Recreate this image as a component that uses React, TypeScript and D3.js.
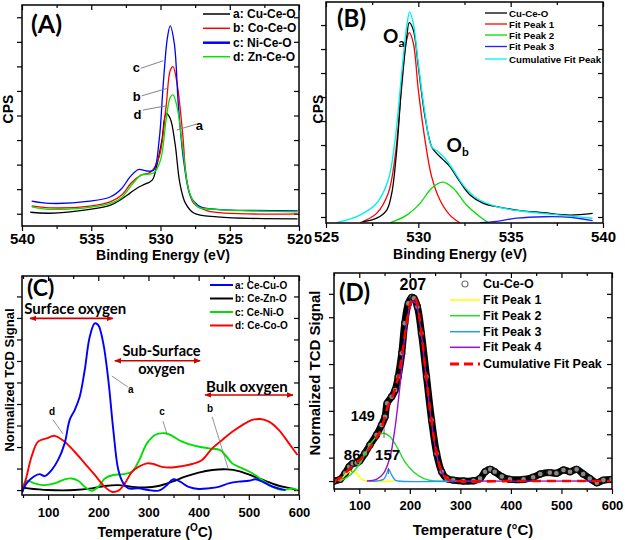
import React, { useEffect, useRef } from "react";
import * as d3 from "d3";

type Pt = [number, number];

// ---------- (A) O 1s spectra: binding energy (eV), CPS (a.u.)
const aCuCeO: Pt[] = [[539.4,0.06],[538,0.02],[535.1,0.18],[533.6,0.35],[532.9,0.56],[532.2,0.84],[531.7,1.04],[531.3,1.16],[530.6,1.37],[530.3,1.89],[529.9,2.99],[529.6,4.08],[529.3,3.88],[528.95,2.86],[528.6,1.24],[528.2,0.43],[527.6,0.03],[525.9,-0.13],[520.1,-0.21]];
const aCoCeO: Pt[] = [[539.3,0.32],[538,0.24],[535.1,0.31],[533.6,0.49],[532.8,0.76],[532.1,1.26],[531.4,1.57],[530.7,1.7],[530.1,2.31],[529.6,4.34],[529.3,5.83],[529.1,5.99],[528.8,5.29],[528.4,3.26],[528.1,1.37],[527.6,0.42],[526.6,0.12],[520.1,-0.01]];
const aNiCeO: Pt[] = [[539.3,0.51],[538,0.42],[535.1,0.51],[533.6,0.69],[532.8,1.03],[532.2,1.5],[531.6,1.8],[531.0,1.74],[530.5,1.77],[530.1,2.99],[529.8,5.29],[529.5,7.17],[529.3,7.65],[529.0,6.92],[528.7,4.33],[528.3,2.05],[527.8,0.68],[527.1,0.28],[525.9,0.18],[520.1,0.12]];
const aZnCeO: Pt[] = [[539.3,0.28],[538,0.18],[535.1,0.26],[533.6,0.42],[532.8,0.66],[532.0,1.23],[531.4,1.57],[530.5,1.66],[530.0,2.18],[529.6,3.8],[529.3,4.74],[529.1,4.84],[528.8,4.34],[528.4,2.72],[527.9,0.83],[527.3,0.28],[526.1,0.18],[520.1,0.08]];
const aLegend = ["a: Cu-Ce-O", "b: Co-Ce-O", "c: Ni-Ce-O", "d: Zn-Ce-O"];
const beTicksA = [540, 535, 530, 525, 520];

// ---------- (B) Cu-Ce-O deconvolution
const bCuCeO: Pt[] = [[527.0,-0.2],[527.74,-0.05],[528.29,0.29],[528.56,0.99],[528.83,2.79],[529.1,5.57],[529.37,7.51],[529.51,8.1],[529.73,7.79],[530.0,6.26],[530.36,4.18],[530.72,2.93],[530.99,2.65],[531.35,2.38],[531.71,2.1],[532.25,1.47],[532.8,0.92],[533.52,0.57],[534.24,0.43],[535.33,0.29],[536.77,0.18],[538.21,0.08],[539.44,0.15]];
const bFit1: Pt[] = [[526.84,-0.24],[527.74,0.15],[528.37,0.99],[528.74,2.51],[529.1,5.43],[529.37,7.38],[529.51,7.68],[529.73,7.24],[530.0,5.29],[530.36,3.21],[530.72,1.68],[531.17,0.71],[531.71,0.08],[532.25,-0.24]];
const bFit2: Pt[] = [[528.47,-0.24],[529.37,0.08],[530.09,0.57],[530.72,1.2],[531.31,1.45],[531.89,1.2],[532.61,0.5],[533.34,0.01],[533.79,-0.24]];
const bFit3: Pt[] = [[533.34,-0.24],[534.24,-0.18],[535.33,-0.05],[536.77,0.01],[538.21,-0.01],[539.44,-0.15]];
const bCumul: Pt[] = [[525.58,-0.24],[526.84,0.08],[527.74,0.57],[528.37,1.54],[528.74,3.21],[529.1,5.99],[529.37,7.93],[529.53,8.55],[529.73,8.07],[530.0,6.4],[530.36,4.32],[530.72,2.93],[531.08,2.72],[531.44,2.45],[531.89,1.96],[532.43,1.33],[533.16,0.78],[534.24,0.43],[535.87,0.22],[537.67,0.08],[539.44,-0.05]];
const bLegend = ["Cu-Ce-O", "Fit Peak 1", "Fit Peak 2", "Fit Peak 3", "Cumulative Fit Peak"];
const beTicksB = [525, 530, 535, 540];

// ---------- (C) H2-TPR profiles: temperature (°C), normalized signal
const cCeCuO: Pt[] = [[48,-0.12],[57,0.31],[71,0.62],[83,0.74],[93,0.65],[107,0.93],[120,1.4],[133,2.17],[143,3.26],[153,3.72],[163,4.34],[173,5.58],[183,7.13],[193,7.75],[200,7.67],[210,6.82],[220,5.12],[230,2.79],[240,0.93],[250,0.31],[260,0.08],[280,0.08],[300,0],[320,-0.03],[333,0.15],[350,0.5],[363,0.39],[380,0.15],[400,0.05],[420,0.08],[440,0.15],[460,0.31],[480,0.39],[500,0.43],[513,0.5],[527,0.39],[540,0.23],[553,0.12],[567,0.03],[573,0]];
const cCeZnO: Pt[] = [[48,0.12],[60,0.08],[100,0],[153,0],[187,0.08],[213,0.19],[240,0.23],[267,0.15],[293,0.12],[320,0.19],[347,0.39],[373,0.62],[400,0.81],[427,0.93],[457,0.96],[480,0.88],[507,0.66],[533,0.43],[560,0.2],[580,0.1],[597,0]];
const cCeNiO: Pt[] = [[48,0.06],[57,0.43],[73,0.31],[93,0.23],[113,0.31],[133,0.5],[147,0.54],[160,0.43],[173,0.15],[187,-0.03],[200,0.15],[213,0.54],[230,0.7],[250,0.74],[267,0.85],[280,1.32],[297,2.17],[313,2.56],[333,2.64],[347,2.52],[367,2.25],[393,2.05],[420,1.94],[443,1.86],[453,1.63],[467,1.24],[487,1.01],[507,0.78],[527,0.46],[547,0.15],[567,0],[587,0.08],[597,0]];
const cCeCoO: Pt[] = [[48,-0.12],[57,0.62],[67,1.55],[80,2.25],[97,2.4],[113,2.52],[133,2.25],[153,1.78],[173,1.24],[193,0.7],[213,0.15],[227,-0.08],[240,-0.03],[253,0.31],[267,0.85],[280,1.08],[297,1.24],[310,1.21],[327,1.08],[347,1.05],[367,1.11],[387,1.21],[407,1.4],[427,1.94],[447,2.33],[467,2.71],[487,3.02],[507,3.26],[523,3.3],[540,3.18],[560,2.79],[580,2.17],[597,1.63]];
const cLegend = ["a: Ce-Cu-O", "b: Ce-Zn-O", "c: Ce-Ni-O", "d: Ce-Co-O"];
// oxygen regions: [from °C, to °C, level]
const cRegions: [number, number, number][] = [[64, 229, 7.98], [233, 403, 6.01], [413, 588, 4.42]];
const tempTicks = [100, 200, 300, 400, 500, 600];
const tempMinor = [50, 150, 250, 350, 450, 550];

// ---------- (D) Cu-Ce-O TPR fit
const dCuCeO: Pt[] = [[50,0],[62,0.07],[72,0.33],[80,0.61],[87,0.75],[95,0.78],[101,0.87],[111,1.18],[121,1.54],[134,1.97],[144,2.39],[151,2.75],[155,3.32],[164,3.6],[171,3.89],[177,4.46],[184,5.46],[190,6.74],[197,7.59],[204,7.85],[208,7.81],[215,7.45],[223,6.31],[233,4.46],[243,2.61],[253,1.18],[263,0.4],[273,0.11],[286,0.04],[306,0],[326,0.01],[339,0.11],[349,0.4],[359,0.5],[368,0.4],[382,0.19],[398,0.07],[425,0.07],[444,0.16],[458,0.3],[477,0.36],[490,0.33],[504,0.47],[517,0.4],[530,0.5],[543,0.3],[556,0.11],[570,-0.07],[583,0.04],[599,0.07]];
const dFit1: Pt[] = [[50,0],[65,0.11],[75,0.33],[85,0.43],[95,0.33],[105,0.07],[115,0],[170,0]];
const dFit2: Pt[] = [[62,0],[82,0.26],[101,0.75],[121,1.54],[138,1.97],[149,2.04],[161,1.89],[174,1.47],[190,0.83],[207,0.4],[227,0.11],[247,0],[300,0]];
const dFit3: Pt[] = [[120,0],[134,0],[148,0.07],[154,0.3],[158,0.51],[164,0.26],[171,0.04],[177,0],[290,0]];
const dFit4: Pt[] = [[115,0],[134,0.07],[148,0.33],[161,1.04],[171,2.32],[181,4.17],[190,6.17],[200,7.45],[206,7.66],[212,7.59],[220,6.74],[230,4.89],[240,3.03],[250,1.47],[260,0.54],[270,0.14],[279,0.01],[299,0],[570,0]];
const dCumul: Pt[] = [[50,0],[65,0.16],[78,0.47],[88,0.68],[101,0.9],[115,1.25],[131,1.75],[144,2.25],[155,3.1],[167,3.68],[177,4.46],[187,5.74],[197,7.17],[206,7.85],[212,7.76],[221,6.67],[231,4.74],[241,2.89],[252,1.32],[262,0.47],[273,0.11],[293,0],[398,0],[596,0]];
const dLegend = ["Cu-Ce-O", "Fit Peak 1", "Fit Peak 2", "Fit Peak 3", "Fit Peak 4", "Cumulative Fit Peak"];
// peak label: text, °C, label level, tick from, tick to
const dPeaks: [string, number, number, number, number][] = [["207", 206, 8.16, 0, 0], ["149", 107, 2.56, 2.26, 1.84], ["157", 156, 0.9, 0.56, 0.3], ["86", 86, 0.9, 0.64, 0.38]];
const dPeakTicks = [149, 158, 85];

const SANS = "'Liberation Sans', Arial, Helvetica, sans-serif";
const HUM = "Lato, 'Open Sans', sans-serif";

interface Box { l: number; r: number; t: number; b: number }
interface Spec {
  xDom: [number, number]; yDom: [number, number];
  xMajor: number[]; xMinor: number[]; yMajor: number[];
  fs: number; pad: number; id: string;
}

function panel(svg: any, box: Box, s: Spec) {
  const x = d3.scaleLinear().domain(s.xDom).range([box.l, box.r]);
  const y = d3.scaleLinear().domain(s.yDom).range([box.b, box.t]);
  const g = svg.append("g");
  const put = (axis: any, tr: string) => {
    const a = g.append("g").attr("transform", tr).call(axis);
    a.select(".domain").remove();
    a.selectAll("line").attr("stroke-width", 1.2);
    return a;
  };
  const none = () => "";
  put(d3.axisBottom(x).tickValues(s.xMajor).tickSize(5).tickPadding(s.pad).tickFormat(d3.format("d") as any), `translate(0,${box.b})`)
    .selectAll("text").attr("font-family", SANS).attr("font-weight", "bold").attr("font-size", s.fs).attr("fill", "#000");
  put(d3.axisBottom(x).tickValues(s.xMinor).tickSize(3).tickFormat(none), `translate(0,${box.b})`);
  put(d3.axisTop(x).tickValues(s.xMajor).tickSize(-5).tickFormat(none), `translate(0,${box.t})`);
  put(d3.axisTop(x).tickValues(s.xMinor).tickSize(-3).tickFormat(none), `translate(0,${box.t})`);
  put(d3.axisLeft(y).tickValues(s.yMajor).tickSize(5).tickFormat(none), `translate(${box.l},0)`);
  put(d3.axisRight(y).tickValues(s.yMajor).tickSize(-5).tickFormat(none), `translate(${box.r},0)`);
  svg.append("clipPath").attr("id", s.id).append("rect")
    .attr("x", box.l).attr("y", box.t).attr("width", box.r - box.l).attr("height", box.b - box.t);
  const plot = g.append("g").attr("clip-path", `url(#${s.id})`);
  const over = g.append("g");
  g.append("rect").attr("x", box.l).attr("y", box.t).attr("width", box.r - box.l).attr("height", box.b - box.t)
    .attr("fill", "none").attr("stroke", "#000").attr("stroke-width", 1.5);
  const line = d3.line<Pt>().x((d) => x(d[0])).y((d) => y(d[1])).curve(d3.curveCatmullRom.alpha(0.5));
  const curve = (data: Pt[], color: string, w: number, dash?: string) =>
    plot.append("path").attr("d", line(data)).attr("fill", "none").attr("stroke", color)
      .attr("stroke-width", w).attr("stroke-dasharray", dash ?? null).attr("stroke-linejoin", "round");
  return { g, plot, over, x, y, curve };
}

function text(g: any, t: string, x: number, y: number, fs: number, opt: any = {}) {
  return g.append("text").text(t).attr("x", x).attr("y", y).attr("font-size", fs)
    .attr("font-family", opt.family ?? SANS).attr("font-weight", opt.weight ?? "bold")
    .attr("text-anchor", opt.anchor ?? "start").attr("fill", opt.fill ?? "#000")
    .attr("transform", opt.rotate ? `rotate(-90 ${x} ${y})` : null);
}

function legend(g: any, labels: string[], colors: string[], rows: number[], x1: number, x2: number, tx: number, fs: number, widths: number[], dash: (string | null)[] = []) {
  labels.forEach((lab, i) => {
    if (colors[i] !== "marker") {
      g.append("line").attr("x1", x1).attr("x2", x2).attr("y1", rows[i]).attr("y2", rows[i])
        .attr("stroke", colors[i]).attr("stroke-width", widths[i]).attr("stroke-dasharray", dash[i] ?? null);
    } else {
      g.append("circle").attr("cx", (x1 + x2) / 2).attr("cy", rows[i]).attr("r", 3)
        .attr("fill", "none").attr("stroke", "#777").attr("stroke-width", 1.2);
    }
    text(g, lab, tx, rows[i], fs).attr("dominant-baseline", "central");
  });
}

const App = () => {
  const ref = useRef<SVGSVGElement>(null);
  useEffect(() => {
    const svg = d3.select(ref.current);
    svg.selectAll("*").remove();

    // ---------------- A
    const A = panel(svg, { l: 22, r: 299, t: 5, b: 226 }, {
      xDom: [540, 520], yDom: [-0.5, 8.5], xMajor: beTicksA, xMinor: [537.5, 532.5, 527.5, 522.5],
      yMajor: d3.range(0, 9), fs: 15, pad: 2, id: "clipA",
    });
    A.curve(aCuCeO, "#000", 1.3);
    A.curve(aCoCeO, "#ff0000", 1.3);
    A.curve(aNiCeO, "#0000ff", 1.3);
    A.curve(aZnCeO, "#00e600", 1.3);
    const aNotes: [string, number, number, Pt, Pt][] = [
      ["c", 531.75, 5.97, [531.43, 5.92], [529.8, 6.23]],
      ["b", 531.72, 4.76, [531.36, 4.8], [529.55, 5.1]],
      ["d", 531.67, 4.05, [531.29, 4.22], [529.63, 4.39]],
      ["a", 527.2, 3.61, [528.83, 3.41], [527.39, 3.65]],
    ];
    aNotes.forEach(([t, bx, by, p, q]) => {
      A.over.append("line").attr("x1", A.x(p[0])).attr("y1", A.y(p[1])).attr("x2", A.x(q[0])).attr("y2", A.y(q[1]))
        .attr("stroke", "#777").attr("stroke-width", 0.9);
      text(A.over, t, A.x(bx), A.y(by), 13, { anchor: "middle" }).attr("dominant-baseline", "central");
    });
    legend(A.over, aLegend, ["#000", "#ff0000", "#0000ff", "#00e600"], [14, 28.3, 42.7, 56.7], 203, 230, 233, 12, [1.5, 1.5, 2.5, 1.5]);
    text(svg, "(A)", 31, 33, 25, { family: HUM });
    text(svg, "Binding Energy (eV)", 163, 259.5, 14, { anchor: "middle" });
    text(svg, "CPS", 13, 109, 14, { anchor: "middle", rotate: true });

    // ---------------- B
    const B = panel(svg, { l: 326, r: 603, t: 2, b: 223 }, {
      xDom: [525, 540], yDom: [-0.25, 8.96], xMajor: beTicksB, xMinor: [527.5, 532.5, 537.5],
      yMajor: d3.range(0, 9), fs: 15, pad: 3, id: "clipB",
    });
    B.curve(bFit1, "#ff0000", 1.3);
    B.curve(bFit2, "#00dd00", 1.3);
    B.curve(bFit3, "#2020ff", 1.3);
    B.curve(bCuCeO, "#000", 1.3);
    B.curve(bCumul, "#00f0f0", 1.4);
    legend(B.over, bLegend, ["#000", "#ff0000", "#00dd00", "#2020ff", "#00f0f0"], [13, 24, 35, 46.5, 59], 485, 507, 509, 9.7, [1.3, 1.3, 1.3, 1.3, 1.3]);
    const oa = text(B.over, "O", B.x(528.09), B.y(7.25), 19, { family: HUM });
    oa.append("tspan").text("a").attr("font-size", 12).attr("dy", 4);
    const ob = text(B.over, "O", B.x(531.53), B.y(2.71), 19, { family: HUM });
    ob.append("tspan").text("b").attr("font-size", 12).attr("dy", 4);
    text(svg, "(B)", 337, 27, 24, { family: HUM });
    text(svg, "Binding Energy (eV)", 460, 258.5, 14, { anchor: "middle" });
    text(svg, "CPS", 323, 109, 14, { anchor: "middle", rotate: true });

    // ---------------- C
    const C = panel(svg, { l: 22, r: 299, t: 276, b: 495 }, {
      xDom: [48, 600], yDom: [-0.23, 9.95], xMajor: tempTicks, xMinor: tempMinor,
      yMajor: d3.range(0, 10), fs: 13, pad: 7.8, id: "clipC",
    });
    C.curve(cCeZnO, "#000", 1.9);
    C.curve(cCeNiO, "#00e000", 1.9);
    C.curve(cCeCoO, "#ff0000", 1.9);
    C.curve(cCeCuO, "#0000ff", 1.9);
    const cNotes: [string, number, number, Pt, Pt][] = [
      ["a", 265, 4.5, [227, 5.3], [259, 4.79]],
      ["d", 108, 3.5, [110, 3.26], [130, 2.6]],
      ["c", 327, 3.5, [329, 3.2], [337, 2.6]],
      ["b", 423, 3.62, [427, 3.4], [459, 0.98]],
    ];
    cNotes.forEach(([t, bx, by, p, q]) => {
      C.over.append("line").attr("x1", C.x(p[0])).attr("y1", C.y(p[1])).attr("x2", C.x(q[0])).attr("y2", C.y(q[1]))
        .attr("stroke", "#777").attr("stroke-width", 0.8);
      text(C.over, t, C.x(bx), C.y(by), 10, { anchor: "middle" });
    });
    const defs = svg.append("defs");
    ["arrS", "arrE"].forEach((id, i) => {
      defs.append("marker").attr("id", id).attr("viewBox", "0 0 10 10").attr("refX", i ? 9 : 1).attr("refY", 5)
        .attr("markerWidth", 7).attr("markerHeight", 7).attr("orient", "auto").attr("markerUnits", "userSpaceOnUse")
        .append("path").attr("d", i ? "M0,1 L10,5 L0,9 Z" : "M10,1 L0,5 L10,9 Z").attr("fill", "#d00000");
    });
    cRegions.forEach(([t0, t1, lv]) => {
      C.over.append("line").attr("x1", C.x(t0)).attr("x2", C.x(t1)).attr("y1", C.y(lv)).attr("y2", C.y(lv))
        .attr("stroke", "#d00000").attr("stroke-width", 1.6)
        .attr("marker-start", "url(#arrS)").attr("marker-end", "url(#arrE)");
    });
    text(C.over, "Surface oxygen", C.x(154), C.y(8.19), 15, { anchor: "middle", family: HUM });
    text(C.over, "Sub-Surface", C.x(326), C.y(6.25), 14.5, { anchor: "middle", family: HUM });
    text(C.over, "oxygen", C.x(326), C.y(5.38), 14.5, { anchor: "middle", family: HUM });
    text(C.over, "Bulk oxygen", C.x(496), C.y(4.57), 15, { anchor: "middle", family: HUM });
    legend(C.over, cLegend, ["#0000ff", "#000", "#00e000", "#ff0000"], [285, 298.5, 312, 325.5], 210, 233, 235, 10, [2, 2, 2, 2]);
    text(svg, "(C)", 27, 296, 23, { family: HUM });
    const tc = text(svg, "Temperature (", 155, 537, 14, { anchor: "middle" });
    tc.append("tspan").text("O").attr("font-size", 10).attr("dy", -6);
    tc.append("tspan").text("C)").attr("dy", 6);
    text(svg, "Normalized TCD Signal", 14, 380, 13, { anchor: "middle", rotate: true });

    // ---------------- D
    const D = panel(svg, { l: 334, r: 612, t: 273, b: 489 }, {
      xDom: [50, 600], yDom: [-0.34, 8.89], xMajor: tempTicks, xMinor: tempMinor,
      yMajor: d3.range(0, 9), fs: 13, pad: 6.8, id: "clipD",
    });
    D.curve(dCuCeO, "#000", 7);
    D.plot.selectAll("circle.pt").data(dCuCeO).enter().append("circle")
      .attr("class", "pt").attr("cx", (d: Pt) => D.x(d[0])).attr("cy", (d: Pt) => D.y(d[1])).attr("r", 3)
      .attr("fill", "#8a8a8a").attr("stroke", "#111").attr("stroke-width", 1.4);
    D.curve(dFit1, "#ffff00", 1.4);
    D.curve(dFit2, "#22dd22", 1.4);
    D.curve(dFit3, "#1e9bff", 1.4);
    D.curve(dFit4, "#9b10d0", 1.4);
    D.curve(dCumul, "#ff0000", 2.6, "9,6");
    dPeaks.forEach(([t, tx, ly, y0, y1], i) => {
      const fs = t === "207" ? 16 : t === "149" ? 14.5 : 15;
      text(D.over, t, D.x(tx), D.y(ly), fs, { anchor: "middle" });
      if (i > 0) {
        D.over.append("line").attr("x1", D.x(dPeakTicks[i - 1])).attr("x2", D.x(dPeakTicks[i - 1]))
          .attr("y1", D.y(y0)).attr("y2", D.y(y1)).attr("stroke", "#444").attr("stroke-width", 0.8);
      }
    });
    legend(D.over, dLegend, ["marker", "#ffff00", "#22dd22", "#1e9bff", "#9b10d0", "#ff0000"],
      [284, 300, 315.7, 331.7, 347.3, 364], 450, 480, 483, 12.5, [0, 1.5, 1.5, 1.5, 1.5, 2.8], [null, null, null, null, null, "9,5"]);
    text(svg, "(D)", 339, 301, 24, { family: HUM });
    text(svg, "Temperature (°C)", 473, 535, 15, { anchor: "middle" });
    text(svg, "Normalized TCD Signal", 320, 373, 15, { anchor: "middle", rotate: true });
  }, []);
  return (
    <svg ref={ref} width={625} height={540}
      style={{ position: "absolute", left: 0, top: 0, background: "#fff" }} />
  );
};

export default App;
